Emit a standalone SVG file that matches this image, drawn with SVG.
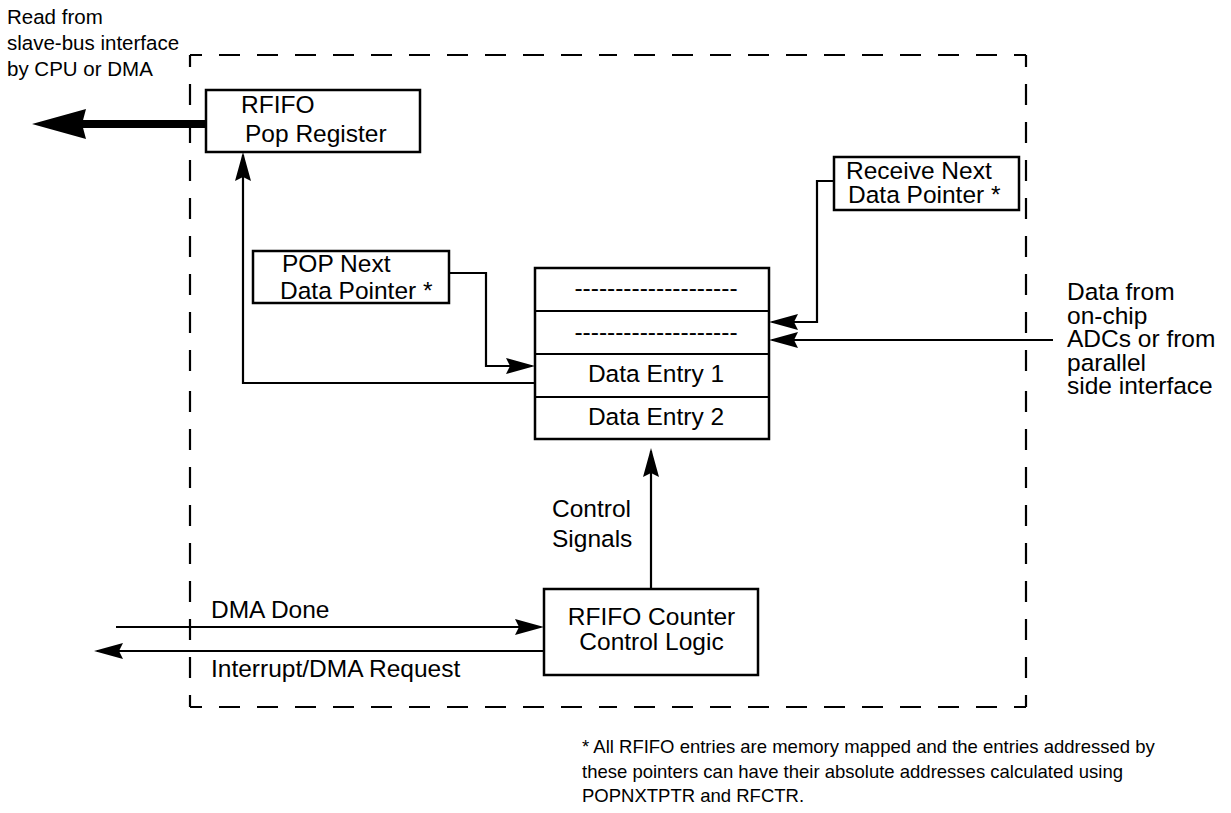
<svg xmlns="http://www.w3.org/2000/svg" width="1231" height="813" viewBox="0 0 1231 813">
<style>
text{font-family:"Liberation Sans",Arial,Helvetica,sans-serif;fill:#000}
.t{font-size:24.5px}
.s{font-size:20.5px}
.f{font-size:18.5px}
.box{fill:#fff;stroke:#000;stroke-width:2.5}
.ln{fill:none;stroke:#000;stroke-width:2.2}
.dash{fill:none;stroke:#000;stroke-width:2.2;stroke-dasharray:21 17;stroke-dashoffset:9}
</style>
<defs>
<marker id="ah" markerUnits="userSpaceOnUse" viewBox="-32 -10 36 20" refX="-3" refY="0" markerWidth="36" markerHeight="20" orient="auto">
<path d="M0,0 L-29,-8 L-25,0 L-29,8 Z" fill="#000"/>
</marker>
<marker id="big" markerUnits="userSpaceOnUse" viewBox="-60 -18 64 36" refX="-40" refY="0" markerWidth="64" markerHeight="36" orient="auto">
<path d="M0,0 L-54,-15 L-50,0 L-54,15 Z" fill="#000"/>
</marker>
</defs>
<rect width="1231" height="813" fill="#fff"/>
<g id="boundary">
<path class="dash" d="M190,55 H608 M1026,55 H608 M190,55 V381 M190,707 V381 M1026,55 V381 M1026,707 V381 M190,707 H608 M1026,707 H608"/>
</g>
<g id="connectors">
<path d="M206,124 H72" fill="none" stroke="#000" stroke-width="8" marker-end="url(#big)"/>
<path class="ln" d="M535,383 H243 V155" marker-end="url(#ah)"/>
<path class="ln" d="M449,273 H486 V366 H532" marker-end="url(#ah)"/>
<path class="ln" d="M834,181 H817 V322 H772" marker-end="url(#ah)"/>
<path class="ln" d="M1053,340 H772" marker-end="url(#ah)" stroke-width="3"/>
<path class="ln" d="M651,588 V451" marker-end="url(#ah)"/>
<path class="ln" d="M116,627 H541" marker-end="url(#ah)"/>
<path class="ln" d="M544,651 H97" marker-end="url(#ah)"/>
</g>
<g id="read-label">
<text class="s" x="7" y="24">Read from</text>
<text class="s" x="7" y="50">slave-bus interface</text>
<text class="s" x="7" y="75.5">by CPU or DMA</text>
</g>
<g id="pop-register">
<rect class="box" x="206" y="90" width="214" height="62"/>
<text class="t" x="241" y="113">RFIFO</text>
<text class="t" x="245" y="142">Pop Register</text>
</g>
<g id="pop-next-pointer">
<rect class="box" x="253" y="251" width="196" height="52"/>
<text class="t" x="282" y="272">POP Next</text>
<text class="t" x="280" y="299">Data Pointer *</text>
</g>
<g id="receive-next-pointer">
<rect class="box" x="834" y="157" width="185" height="53"/>
<text class="t" x="846" y="179">Receive Next</text>
<text class="t" x="848" y="203">Data Pointer *</text>
</g>
<g id="fifo-stack">
<rect class="box" x="535" y="268" width="234" height="171"/>
<path class="ln" d="M535,311 H769 M535,354 H769 M535,397 H769" stroke-width="2.5"/>
<text class="t" x="656" y="295.5" text-anchor="middle">--------------------</text>
<text class="t" x="656" y="340" text-anchor="middle">--------------------</text>
<text class="t" x="656" y="381.5" text-anchor="middle">Data Entry 1</text>
<text class="t" x="656" y="424.5" text-anchor="middle">Data Entry 2</text>
</g>
<g id="data-source-label">
<text class="t" x="1067" y="300">Data from</text>
<text class="t" x="1067" y="323.5">on-chip</text>
<text class="t" x="1067" y="347">ADCs or from</text>
<text class="t" x="1067" y="370.5">parallel</text>
<text class="t" x="1067" y="394">side interface</text>
</g>
<g id="control-signals-label">
<text class="t" x="552" y="517">Control</text>
<text class="t" x="552" y="547">Signals</text>
</g>
<g id="counter-control">
<rect class="box" x="544" y="589" width="214" height="86"/>
<text class="t" x="651.5" y="625" text-anchor="middle">RFIFO Counter</text>
<text class="t" x="651.5" y="650" text-anchor="middle">Control Logic</text>
</g>
<g id="signal-labels">
<text class="t" x="211" y="618">DMA Done</text>
<text class="t" x="211" y="677">Interrupt/DMA Request</text>
</g>
<g id="footnote">
<text class="f" x="582" y="753">* All RFIFO entries are memory mapped and the entries addressed by</text>
<text class="f" x="582" y="778">these pointers can have their absolute addresses calculated using</text>
<text class="f" x="582" y="802">POPNXTPTR and RFCTR.</text>
</g>
</svg>
